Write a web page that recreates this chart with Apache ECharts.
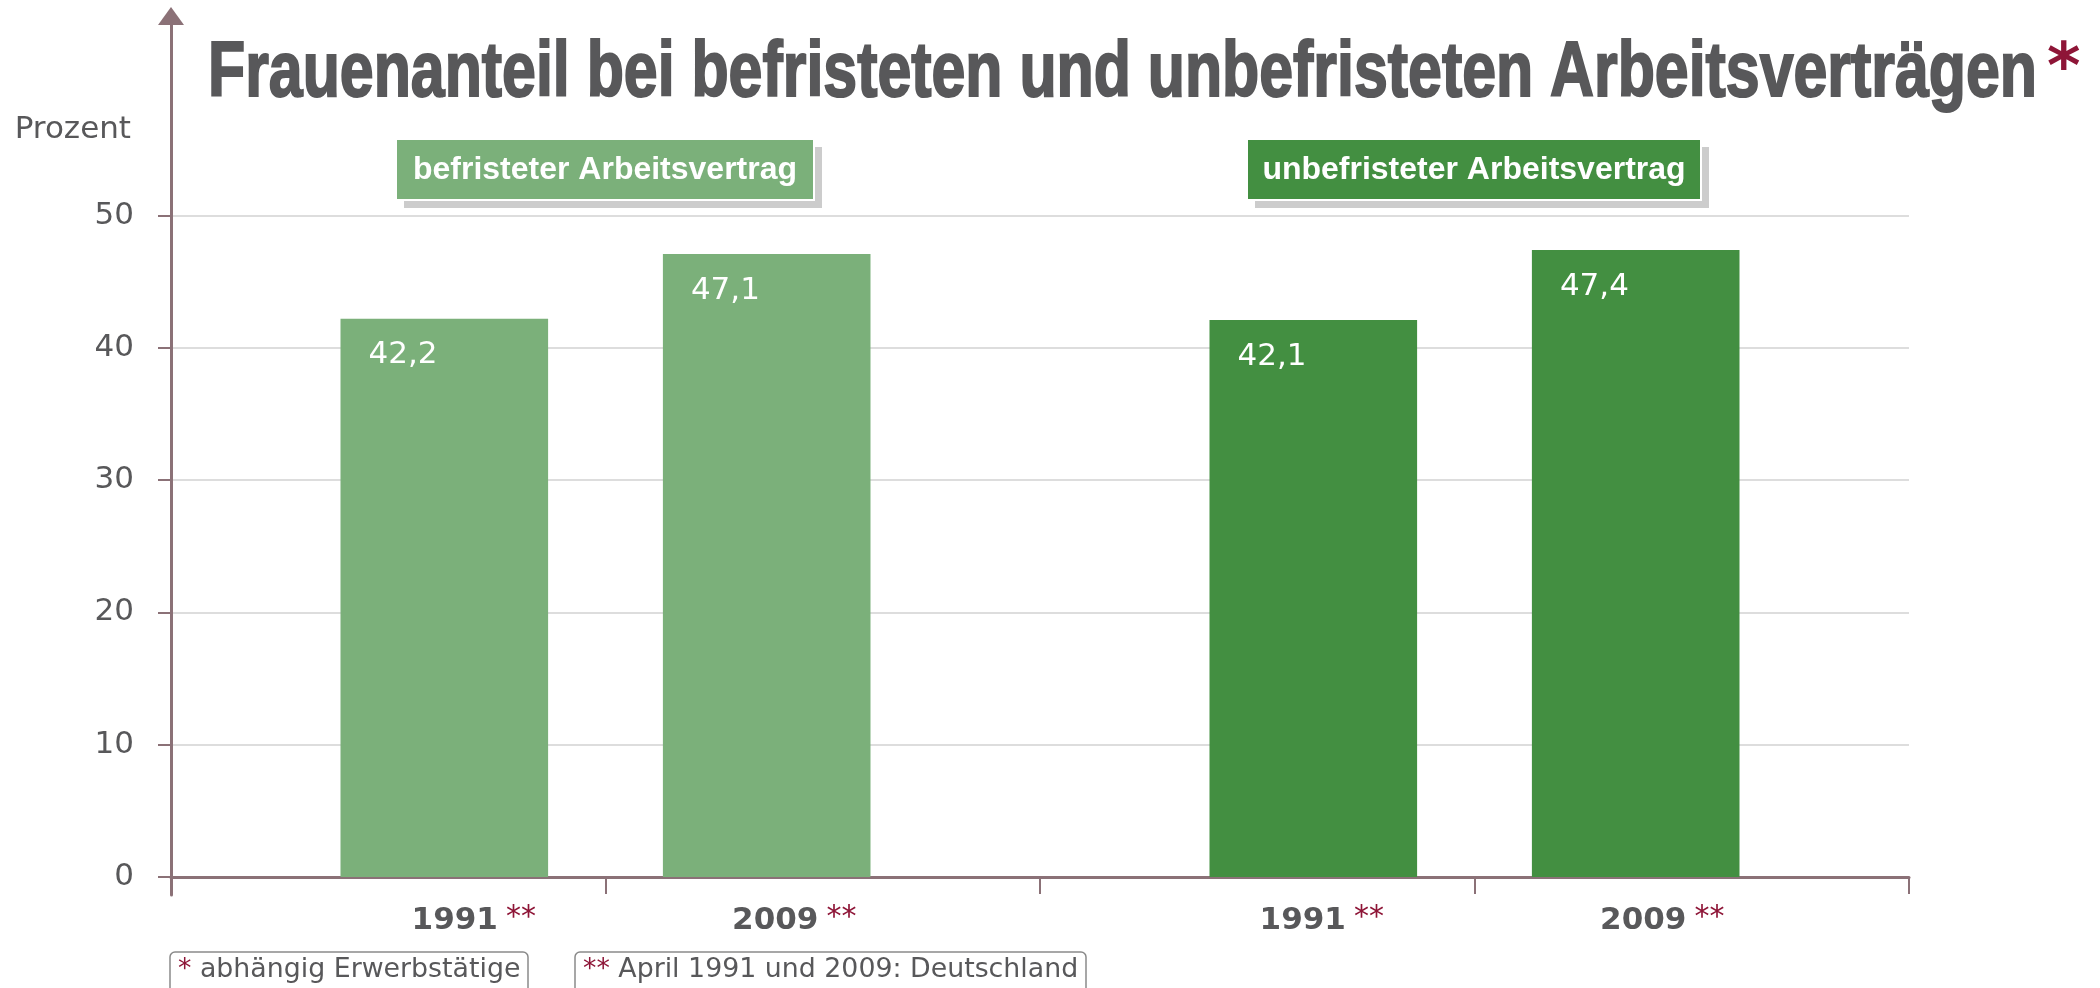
<!DOCTYPE html>
<html>
<head>
<meta charset="utf-8">
<title>Frauenanteil</title>
<script src="https://cdn.jsdelivr.net/npm/echarts@6.0.0/dist/echarts.min.js"></script>
<style>
  html, body { margin: 0; padding: 0; background: #fff; }
  #chart { width: 2100px; height: 988px; }
</style>
</head>
<body>
<div id="chart"></div>
<script>
// data
const groups = ['befristeter Arbeitsvertrag', 'unbefristeter Arbeitsvertrag'];
const years = ['1991', '2009'];
const befristet = [42.2, 47.1];
const unbefristet = [42.1, 47.4];
const categories = ['1991', '2009', '1991', '2009'];
const yMax = 50;
const yStep = 10;
const mainTitle = 'Frauenanteil bei befristeten und unbefristeten Arbeitsverträgen';
const notes = ['abhängig Erwerbstätige', 'April 1991 und 2009: Deutschland'];

const light = '#7bb07a';
const dark = '#438f41';
const axisColor = '#8b7177';
const textGray = '#58585a';
const red = '#8e1537';
const sans = '"Liberation Sans", Arial, sans-serif';
const verdana = '"DejaVu Sans", Verdana, sans-serif';

// bars of one year, coloured by contract group
const yearSeries = (yi) => categories.map((c, i) => {
    if (c !== years[yi]) return '-';
    const isBef = i < 2;
    return {
        value: isBef ? befristet[yi] : unbefristet[yi],
        itemStyle: {color: isBef ? light : dark}
    };
});

// shift of the year label under each bar (left pad / right pad)
const labelPad = [[171, 0], [0, 57], [129, 0], [0, 59]];

// label box with hard grey shadow
const groupBox = (x, w, text, fill) => ({
    type: 'group',
    x: x, y: 139,
    children: [
        {type: 'rect', shape: {x: 8, y: 8, width: w, height: 61}, style: {fill: '#cccccc'}},
        {type: 'rect', shape: {x: 0, y: 0, width: w, height: 61}, style: {fill: fill, stroke: '#fff', lineWidth: 2}},
        {
            type: 'text', x: w / 2, y: 31,
            style: {
                text: text, fill: '#fff', fontSize: 32, fontWeight: 'bold', fontFamily: sans,
                align: 'center', verticalAlign: 'middle'
            }
        }
    ]
});

const noteStyle = {
    fontSize: 26.8, fontFamily: verdana, fontWeight: 'normal', color: textGray,
    rich: {
        s: {fontSize: 26.8, fontFamily: verdana, fontWeight: 'normal', color: red},
        t: {fontSize: 26.8, fontFamily: verdana, fontWeight: 'normal', color: textGray}
    }
};

const chart = echarts.init(document.getElementById('chart'));
chart.setOption({
    animation: false,
    title: [
        {
            left: 170, top: 952,
            text: '{s|*} {t|' + notes[0] + '}',
            borderColor: '#8a8a8a', borderWidth: 1.5, borderRadius: 5,
            padding: [5, 8, 30, 8],
            textStyle: noteStyle
        },
        {
            left: 575, top: 952,
            text: '{s|**} {t|' + notes[1] + '}',
            borderColor: '#8a8a8a', borderWidth: 1.5, borderRadius: 5,
            padding: [5, 8, 30, 8],
            textStyle: noteStyle
        }
    ],
    graphic: [
        {
            type: 'text', x: 208, y: 74, scaleX: 0.78,
            style: {
                text: mainTitle, fill: textGray, stroke: textGray, lineWidth: 2,
                fontSize: 78, fontWeight: 'bold', fontFamily: sans, verticalAlign: 'middle'
            }
        },
        {
            type: 'text', x: 2047, y: 71,
            style: {
                text: '*', fill: red, fontSize: 64, fontWeight: 'bold', fontFamily: verdana,
                verticalAlign: 'middle'
            }
        },
        groupBox(396, 418, groups[0], light),
        groupBox(1247, 454, groups[1], dark)
    ],
    grid: [
        {left: 171, right: 191, top: 215.6, bottom: 111},
        {left: 171, right: 191, top: 16, bottom: 93}
    ],
    xAxis: [
        {
            type: 'category',
            data: categories,
            axisLine: {lineStyle: {color: axisColor, width: 3}},
            axisTick: {show: true, length: 17, lineStyle: {color: axisColor, width: 2}},
            axisLabel: {
                margin: 26,
                formatter: (v, i) => '{y' + i + '|' + v + '}{s' + i + '|**}',
                rich: Object.fromEntries(labelPad.flatMap((p, i) => [
                    ['y' + i, {fontFamily: verdana, fontWeight: 'bold', fontSize: 31, color: textGray, padding: [0, 0, 0, p[0]]}],
                    ['s' + i, {fontFamily: verdana, fontSize: 30, color: red, padding: [0, p[1], 6, 8]}]
                ]))
            }
        },
        {gridIndex: 1, type: 'value', show: false}
    ],
    yAxis: [
        {
            type: 'value',
            min: 0, max: yMax, interval: yStep,
            name: 'Prozent',
            nameLocation: 'end',
            nameGap: 70,
            nameTextStyle: {fontFamily: verdana, fontSize: 31, color: textGray, align: 'right', padding: [0, 40, 0, 0]},
            axisLine: {show: false},
            axisTick: {show: true, length: 13, lineStyle: {color: axisColor, width: 2}},
            axisLabel: {margin: 37, fontFamily: verdana, fontSize: 31, color: textGray},
            splitLine: {lineStyle: {color: '#dddddd', width: 2}}
        },
        {
            gridIndex: 1, type: 'value', min: 0, max: 1,
            axisLine: {
                show: true, onZero: false,
                symbol: ['none', 'triangle'], symbolSize: [26, 18],
                lineStyle: {color: axisColor, width: 3}
            },
            axisTick: {show: false},
            axisLabel: {show: false},
            splitLine: {show: false}
        }
    ],
    series: [1, 0].map(yi => ({
        name: years[yi],
        type: 'bar',
        barWidth: 207.6,
        barGap: '-46%',
        data: yearSeries(yi),
        label: {
            show: true,
            position: [28, 21],
            fontFamily: verdana,
            fontSize: 31,
            color: '#fff',
            formatter: (p) => String(p.value).replace('.', ',')
        }
    }))
});
</script>
</body>
</html>
